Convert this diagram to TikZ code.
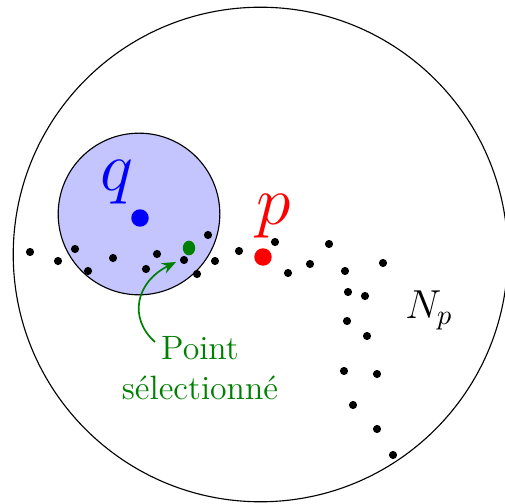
\documentclass[tikz,border=0pt]{standalone}
\usepackage{amsmath}
\usepackage{xcolor}
\usepackage{tikz}
\usetikzlibrary{arrows.meta}
\definecolor{nbgreen}{HTML}{008000}
\definecolor{nbfill}{HTML}{C4C4FF}

\begin{document}
\begin{tikzpicture}[x=0.0125cm, y=-0.0125cm]
  \useasboundingbox (0,0) rectangle (504,504);
  \draw[line width=0.4pt] (260.5,254.5) circle [radius=3.09cm];
  \draw[line width=0.4pt, fill=nbfill] (139,214) circle [radius=1.01cm];
  % voisinage
  \foreach \px/\py in {30/252, 58/261, 75/249, 88/271, 113/258, 157/254, 146/269, 184/260, 197/274, 215/261, 208/235, 239/251, 275/242, 288/273, 310/264, 329/244, 345/271, 383/263, 348/292, 365/296, 347/321, 367/336, 344/371, 377/374, 353/405, 377/429, 393/455}
    \fill[black] (\px,\py) circle [radius=1.45pt];
  \fill[blue] (140,218) circle [radius=3.1pt];
  \fill[red] (263,257) circle [radius=3.1pt];
  \fill[nbgreen] (189,248) ellipse [x radius=2.2pt, y radius=2.6pt];
  \node[text=blue, inner sep=0pt] (lq) at (117,182) {\Huge$q$};
  \node[text=red, inner sep=0pt] (lp) at (274,216) {\Huge$p$};
  \node[inner sep=0pt] (lnp) at (429,310) {\Large$N_p$};
  \node[text=nbgreen, align=center, inner sep=0pt, font=\large] (sel) at (200,368) {Point\\sélectionné};
  \coordinate (from) at (155,342);
  \coordinate (to) at (176,262);
  \draw[nbgreen, line width=0.6pt, -{Stealth[length=5pt, width=4pt]}] (from) .. controls (128,318) and (136,282) .. (to);
\end{tikzpicture}
\end{document}
